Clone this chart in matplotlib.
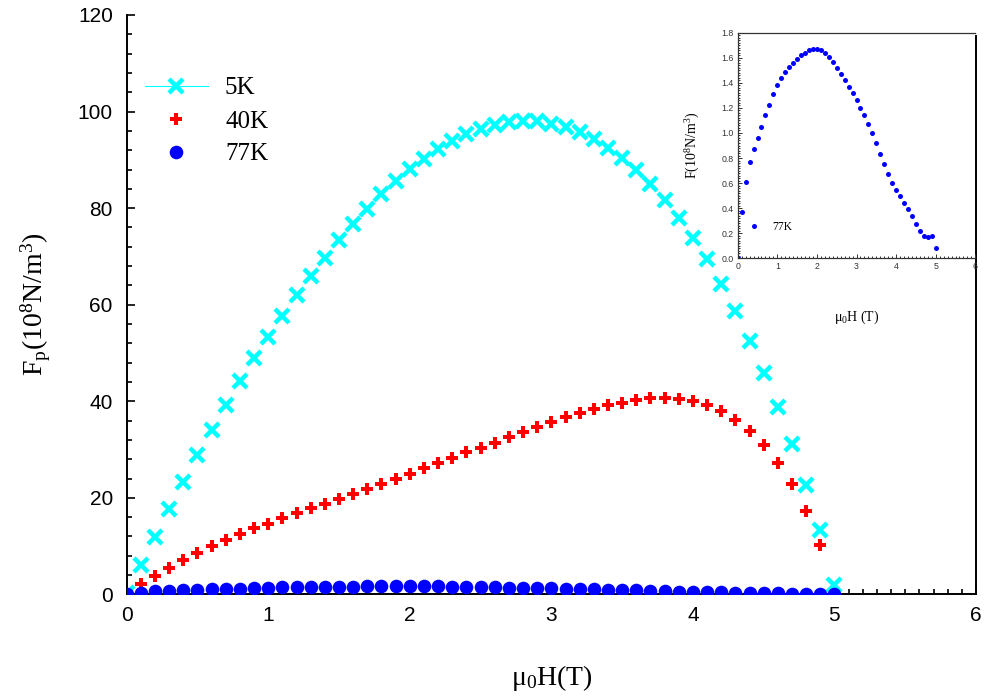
import matplotlib
matplotlib.use("Agg")
import matplotlib.pyplot as plt
from matplotlib.ticker import MultipleLocator
from matplotlib.lines import Line2D

# ---------------- data ----------------
field = [0.0, 0.1, 0.2, 0.3, 0.4, 0.5, 0.6, 0.7, 0.8, 0.9,
         1.0, 1.1, 1.2, 1.3, 1.4, 1.5, 1.6, 1.7, 1.8, 1.9,
         2.0, 2.1, 2.2, 2.3, 2.4, 2.5, 2.6, 2.7, 2.8, 2.9,
         3.0, 3.1, 3.2, 3.3, 3.4, 3.5, 3.6, 3.7, 3.8, 3.9,
         4.0, 4.1, 4.2, 4.3, 4.4, 4.5, 4.6, 4.7, 4.8, 4.9, 5.0]

fp_5K = [0.2, 6.0, 11.9, 17.6, 23.3, 28.8, 34.0, 39.3, 44.1, 48.9,
         53.4, 57.7, 62.0, 65.9, 69.7, 73.4, 76.8, 79.9, 82.9, 85.6,
         88.1, 90.2, 92.3, 94.0, 95.3, 96.4, 97.3, 97.8, 98.0, 98.0,
         97.5, 96.8, 95.7, 94.3, 92.5, 90.4, 88.0, 84.9, 81.7, 77.9,
         73.9, 69.4, 64.3, 58.7, 52.5, 45.8, 38.8, 31.1, 22.7, 13.3, 1.9]

field_40K = field[:50]
fp_40K = [0.0, 2.1, 3.8, 5.5, 7.1, 8.6, 10.0, 11.2, 12.5, 13.7,
          14.6, 15.9, 16.8, 17.8, 18.7, 19.7, 20.8, 21.8, 22.9, 24.0,
          25.0, 26.1, 27.2, 28.3, 29.4, 30.4, 31.4, 32.6, 33.6, 34.7,
          35.7, 36.8, 37.6, 38.5, 39.2, 39.7, 40.2, 40.6, 40.7, 40.5,
          40.0, 39.2, 37.9, 36.2, 33.8, 30.9, 27.3, 22.9, 17.2, 10.2]

fp_77K = [0.0, 0.37, 0.61, 0.77, 0.87, 0.96, 1.05, 1.14, 1.22, 1.31,
          1.38, 1.44, 1.49, 1.53, 1.56, 1.59, 1.62, 1.64, 1.66, 1.67,
          1.67, 1.66, 1.64, 1.61, 1.57, 1.52, 1.47, 1.42, 1.37, 1.32,
          1.26, 1.20, 1.14, 1.07, 1.00, 0.92, 0.83, 0.75, 0.675, 0.60,
          0.545, 0.495, 0.44, 0.39, 0.335, 0.27, 0.215, 0.175, 0.17, 0.18, 0.08]

labels = ["5K", "40K", "77K"]
x_ticks = [0, 1, 2, 3, 4, 5, 6]
y_ticks = [0, 20, 40, 60, 80, 100, 120]
inset_y_ticks = [0.0, 0.2, 0.4, 0.6, 0.8, 1.0, 1.2, 1.4, 1.6, 1.8]

# ---------------- style ----------------
plt.rcParams["mathtext.fontset"] = "custom"
plt.rcParams["mathtext.rm"] = "Liberation Serif"
plt.rcParams["mathtext.it"] = "Liberation Serif:italic"
SERIF = "Liberation Serif"
SANS = "Liberation Sans"

W, H = 988, 698
fig = plt.figure(figsize=(W / 100, H / 100), dpi=100)

def fx(px):
    return px / W

def fy(py):
    return 1 - py / H

ax = fig.add_axes([fx(126.7), fy(594.4), fx(976 - 126.7), (594.4 - 15) / H])

ax.plot(field, fp_5K, linestyle="none", marker="x", ms=10.5, mew=3.2,
        color="#00FFFF", zorder=3)
ax.plot(field_40K, fp_40K, linestyle="none", marker="P", ms=8.5, mew=0,
        color="#FF0000", zorder=4)
ax.plot(field, fp_77K, linestyle="none", marker="o", ms=9.8, mew=0,
        color="#0000FF", zorder=5)

ax.set_xlim(0, 6)
ax.set_ylim(0, 120)
ax.set_xticks(x_ticks)
ax.set_yticks(y_ticks)
ax.xaxis.set_minor_locator(MultipleLocator(0.1))
ax.yaxis.set_minor_locator(MultipleLocator(4))
ax.tick_params(which="both", direction="in", top=False, right=False,
               width=1.2, colors="black")
ax.tick_params(which="major", length=6)
ax.tick_params(which="minor", length=3.5)
ax.tick_params(axis="x", which="major", pad=8)
ax.tick_params(axis="y", which="major", pad=10)
for lab in ax.get_xticklabels() + ax.get_yticklabels():
    lab.set_fontfamily(SANS)
    lab.set_fontsize(15)

for s in ["left", "bottom", "right"]:
    ax.spines[s].set_linewidth(1.4)
ax.spines["top"].set_visible(False)
ax.spines["right"].set_bounds(0, 115.7)

ax.set_xlabel("μ$_{0}$H(T)", fontfamily=SERIF, fontsize=20, labelpad=28)
ax.set_ylabel("F$_{\\mathrm{p}}$(10$^{8}$N/m$^{3}$)", fontfamily=SERIF,
              fontsize=20, labelpad=18)

handles = [
    Line2D([], [], color="#00FFFF", lw=0.8, marker="x", ms=10.5, mew=3.2),
    Line2D([], [], color="#FF0000", linestyle="none", marker="P", ms=8.5, mew=0),
    Line2D([], [], color="#0000FF", linestyle="none", marker="o", ms=9.8, mew=0),
]
ax.legend(handles, labels, loc="upper left",
          bbox_to_anchor=(fx(145), fy(77)), bbox_transform=fig.transFigure,
          frameon=False, borderpad=0, borderaxespad=0,
          handlelength=2.5, handletextpad=0.7, labelspacing=0.42,
          prop={"family": SERIF, "size": 18})

# ---------------- inset ----------------
axi = fig.add_axes([fx(737.7), fy(258.3), fx(975.3 - 737.7), (258.3 - 32.7) / H])
axi.plot(field, fp_77K, linestyle="none", marker="o", ms=3.6, mew=0,
         color="#0000FF")
axi.set_xlim(0, 6)
axi.set_ylim(0, 1.8)
axi.set_xticks(x_ticks)
axi.set_yticks(inset_y_ticks)
axi.set_yticklabels(["%.1f" % v for v in inset_y_ticks])
axi.xaxis.set_minor_locator(MultipleLocator(0.1))
axi.yaxis.set_minor_locator(MultipleLocator(0.02))
axi.tick_params(which="both", direction="in", top=False, right=False,
                width=0.7, colors="#333333", labelsize=6.3)
axi.tick_params(which="major", length=3, pad=3)
axi.tick_params(which="minor", length=1.5)
for lab in axi.get_xticklabels() + axi.get_yticklabels():
    lab.set_fontfamily(SANS)
for s in ["left", "bottom", "top"]:
    axi.spines[s].set_linewidth(0.9)
    axi.spines[s].set_color("#333333")
axi.spines["right"].set_visible(False)
axi.set_xlabel("μ$_{0}$H (T)", fontfamily=SERIF, fontsize=10, labelpad=27)
axi.set_ylabel("F(10$^{8}$N/m$^{3}$)", fontfamily=SERIF, fontsize=10, labelpad=14)

axi.legend([Line2D([], [], color="#0000FF", linestyle="none", marker="o",
                   ms=3.6, mew=0)], ["77K"],
           loc="center left", bbox_to_anchor=(fx(748.2), fy(227.3)),
           bbox_transform=fig.transFigure, frameon=False, borderpad=0,
           borderaxespad=0, handlelength=1.0, handletextpad=1.1,
           prop={"family": SERIF, "size": 8.4})

fig.savefig("out.png", dpi=100)
